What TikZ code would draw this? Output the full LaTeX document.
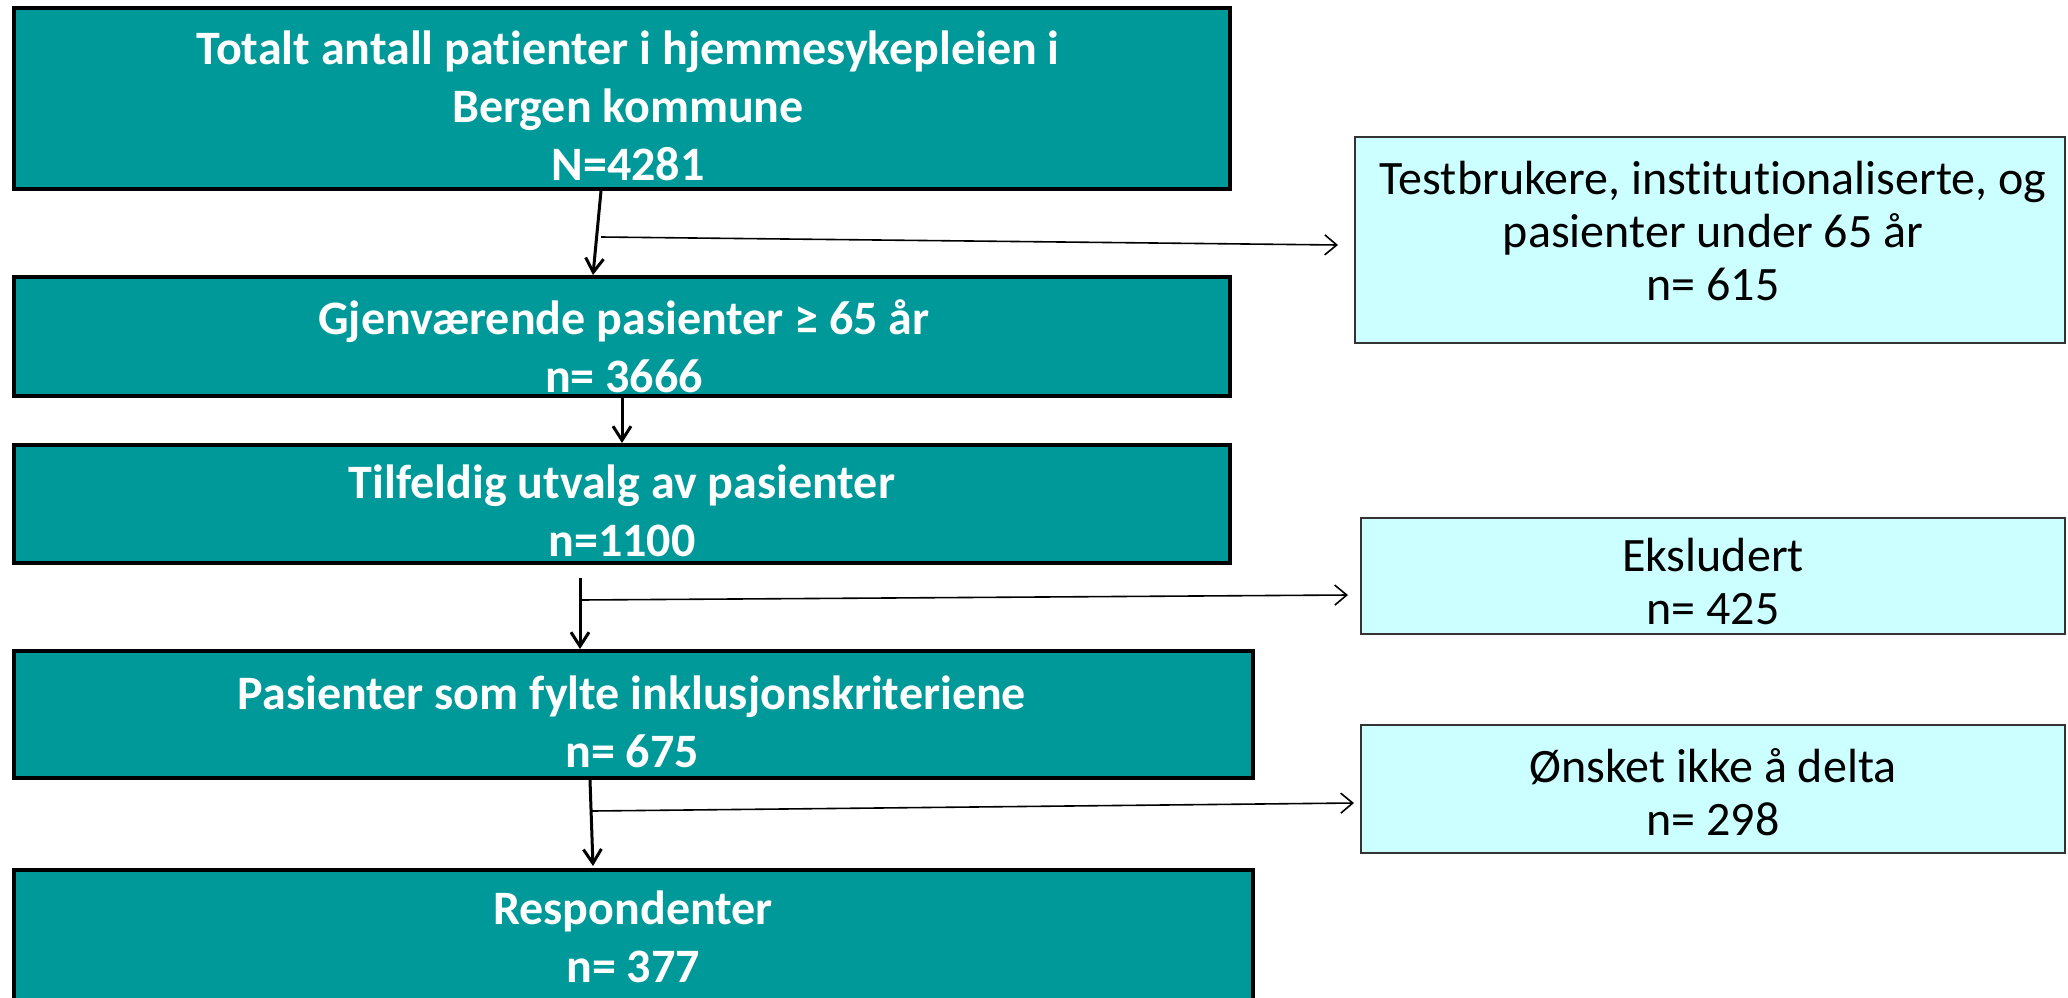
\documentclass[tikz,border=0pt]{standalone}
\usepackage{fontspec}
\setmainfont{Carlito}[Ligatures=NoCommon]
\usetikzlibrary{arrows.meta}
\definecolor{boxteal}{RGB}{0,153,153}
\definecolor{boxcyan}{RGB}{204,255,255}
\begin{document}
\begin{tikzpicture}[x=0.5pt,y=-0.5pt,
  mainbox/.style={draw=black, line width=2pt, fill=boxteal, inner sep=0pt},
  sidebox/.style={draw=black!80, line width=1pt, fill=boxcyan, inner sep=0pt},
  maintext/.style={text=white, font=\fontsize{24}{29}\selectfont\bfseries, align=center, inner sep=0pt},
  sidetext/.style={text=black, font=\fontsize{24}{26.5}\selectfont, align=center, inner sep=0pt},
  mainarrow/.style={line width=1.5pt, -{Straight Barb[length=7pt,width=9pt]}},
  sidearrow/.style={line width=0.8pt, -{Straight Barb[length=6pt,width=10pt]}},
]
\useasboundingbox (0,0) rectangle (2068,997);
\clip (0,0) rectangle (2068,997);
% main boxes
\node[mainbox, minimum width=608pt, minimum height=90.5pt] (b1) at (622,98.5) {};
\node[mainbox, minimum width=608pt, minimum height=59.5pt] (b2) at (622,336.5) {};
\node[mainbox, minimum width=608pt, minimum height=59pt] (b3) at (622,504) {};
\node[mainbox, minimum width=619.5pt, minimum height=63.5pt] (b4) at (633.5,714.5) {};
\node[mainbox, minimum width=619.5pt, minimum height=70pt] (b5) at (633.5,940) {};
% side boxes
\node[sidebox, minimum width=355pt, minimum height=103pt] (r1) at (1710,240) {};
\node[sidebox, minimum width=352pt, minimum height=58pt] (r2) at (1713,576) {};
\node[sidebox, minimum width=352pt, minimum height=64pt] (r3) at (1713,789) {};
% texts
\node[maintext] (t1) at (628,106) {Totalt antall patienter i hjemmesykepleien i\\Bergen kommune\\N=4281};
\node[maintext] (t2) at (624,346) {Gjenværende pasienter ≥ 65 år\\n= 3666};
\node[maintext] (t3) at (622,510.5) {Tilfeldig utvalg av pasienter\\n=1100};
\node[maintext] (t4) at (632,721.5) {Pasienter som fylte inklusjonskriteriene\\n= 675};
\node[maintext] (t5) at (633,936.5) {Respondenter\\n= 377};
\node[sidetext] (s1) at (1713,231) {Testbrukere, institutionaliserte, og\\pasienter under 65 år\\n= 615};
\node[sidetext] (s2) at (1713,581.5) {Eksludert\\n= 425};
\node[sidetext] (s3) at (1713,792) {Ønsket ikke å delta\\n= 298};
% connectors
\draw[mainarrow] ([xshift=-10.5pt]b1.south) -- ([xshift=-14.5pt]b2.north);
\coordinate (j1) at (601,237);
\draw[sidearrow] (j1) -- ([xshift=-8pt,yshift=-2.5pt]r1.west);
\draw[mainarrow] (b2.south) -- (b3.north);
\draw[mainarrow] ([xshift=-21pt,yshift=-6.5pt]b3.south) -- ([xshift=-26.75pt]b4.north);
\coordinate (j3) at (580,600);
\draw[sidearrow] (j3) -- ([xshift=-6pt,yshift=-9.5pt]r2.west);
\draw[mainarrow] ([xshift=-21.75pt]b4.south) -- ([xshift=-20.25pt,yshift=1pt]b5.north);
\coordinate (j4) at (592,811);
\draw[sidearrow] (j4) -- ([xshift=-3pt,yshift=-7pt]r3.west);
\end{tikzpicture}
\end{document}
